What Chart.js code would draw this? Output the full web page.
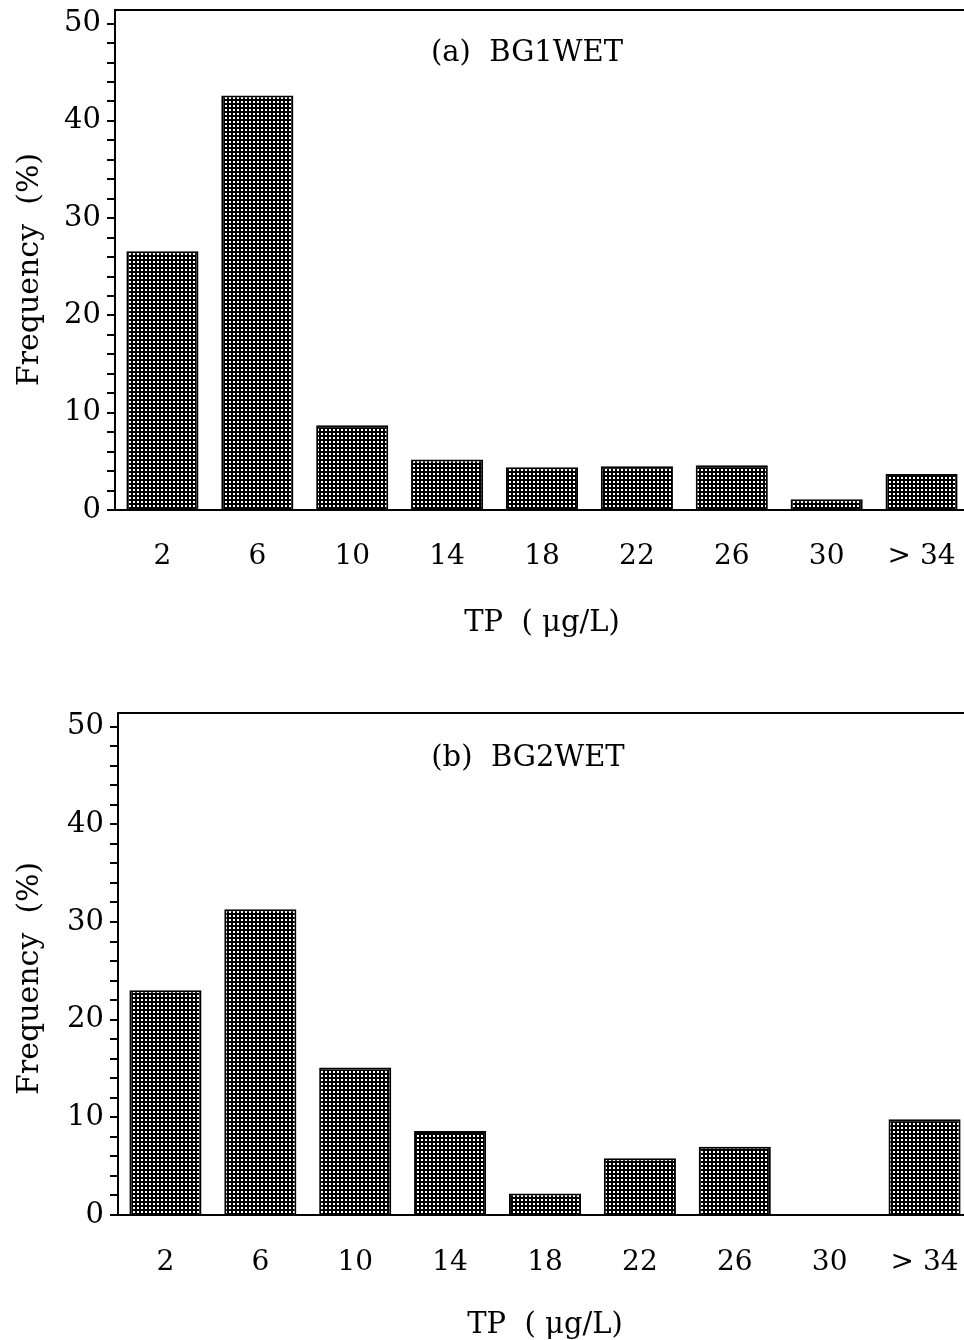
<!DOCTYPE html>
<html><head><meta charset="utf-8">
<script src="https://cdn.jsdelivr.net/npm/chart.js@4/dist/chart.umd.min.js"></script>
<style>
html,body{margin:0;padding:0;background:#fff;overflow:hidden;}
.wrap{position:absolute;left:0;}
#w1{top:0;height:660px;width:969px}
#w2{top:690px;height:680px;width:972px}
</style></head><body>
<div class="wrap" id="w1"><canvas id="c1"></canvas></div>
<div class="wrap" id="w2"><canvas id="c2"></canvas></div>
<script>
const categories = ['2', '6', '10', '14', '18', '22', '26', '30', '> 34'];
const bg1wet = [26.6, 42.6, 8.7, 5.2, 4.4, 4.5, 4.6, 1.1, 3.7];
const bg2wet = [23.0, 31.3, 15.1, 8.6, 2.2, 5.8, 7.0, 0, 9.8];
const yMajorTicks = [0, 10, 20, 30, 40, 50];
const yMinorStep = 2;
const panelTitles = ['(a)  BG1WET', '(b)  BG2WET'];
const xTitle = 'TP  ( μg/L)';
const yTitle = 'Frequency  (%)';

function makePattern() {
  const c = document.createElement('canvas');
  c.width = 4; c.height = 4;
  const g = c.getContext('2d');
  g.fillStyle = '#000'; g.fillRect(0, 0, 4, 4);
  g.fillStyle = '#fff';
  g.fillRect(1, 1, 2, 2);
  return g.createPattern(c, 'repeat');
}
const pattern = makePattern();
const FONT = 'DejaVu Serif';

const panelLabel = {
  id: 'panelLabel',
  afterDraw(chart, args, o) {
    const ctx = chart.ctx;
    ctx.save();
    ctx.font = '29px "' + FONT + '"';
    ctx.fillStyle = '#000';
    ctx.textAlign = 'center';
    ctx.textBaseline = 'middle';
    ctx.fillText(o.text, chart.chartArea.left + o.dx, chart.chartArea.top + o.dy);
    ctx.restore();
  }
};

function zeroPad(s) { s.paddingTop = 0; s.paddingBottom = 0; s.paddingLeft = 0; s.paddingRight = 0; }

function build(id, values, title, opt) {
  return new Chart(document.getElementById(id), {
    type: 'bar',
    data: {
      labels: categories,
      datasets: [{
        data: values,
        backgroundColor: pattern,
        borderColor: '#000',
        borderWidth: 2,
        categoryPercentage: 1,
        barPercentage: 0.76
      }]
    },
    plugins: [panelLabel],
    options: {
      responsive: true,
      maintainAspectRatio: false,
      animation: false,
      devicePixelRatio: 1,
      layout: { padding: { top: opt.top, left: 0, right: 0, bottom: 0 } },
      plugins: {
        legend: { display: false },
        tooltip: { enabled: false },
        panelLabel: { text: title, dx: opt.dx, dy: opt.dy }
      },
      scales: {
        x: {
          type: 'category',
          offset: true,
          grid: { display: false, drawTicks: false },
          border: { display: true, color: '#000', width: 2 },
          ticks: { font: { family: FONT, size: 28 }, color: '#000', padding: opt.xtp, maxRotation: 0, autoSkip: false },
          title: { display: true, text: xTitle, font: { family: FONT, size: 29 }, color: '#000', padding: { top: 0, bottom: opt.xtb } },
          afterFit(s) { s.height = opt.xh; zeroPad(s); }
        },
        x2: {
          type: 'category',
          labels: categories,
          position: 'top',
          offset: true,
          grid: { display: false, drawTicks: false },
          ticks: { display: false },
          border: { display: true, color: '#000', width: 2 },
          afterFit(s) { s.height = 0; zeroPad(s); }
        },
        y: {
          min: 0,
          max: 51.4,
          afterBuildTicks(s) {
            const top = yMajorTicks[yMajorTicks.length - 1];
            const t = [];
            for (let v = yMajorTicks[0]; v <= top; v += yMinorStep) t.push({ value: v });
            s.ticks = t;
          },
          grid: { display: true, drawOnChartArea: false, drawTicks: true, tickLength: 8, color: '#000', lineWidth: 2 },
          border: { display: true, color: '#000', width: 2 },
          ticks: {
            autoSkip: false,
            font: { family: FONT, size: 29 },
            color: '#000',
            padding: 6,
            callback: (v) => yMajorTicks.includes(v) ? String(v) : ''
          },
          title: { display: true, text: yTitle + opt.ypad, font: { family: FONT, size: 30 }, color: '#000', padding: { top: 12, bottom: 0 } },
          afterFit(s) { s.width = opt.yw; zeroPad(s); }
        }
      }
    }
  });
}

build('c1', bg1wet, panelTitles[0], { top: 10, yw: 115, xh: 150, xtp: 30, xtb: 19, dx: 412, dy: 43, ypad: '  ' });
build('c2', bg2wet, panelTitles[1], { top: 23, yw: 118, xh: 155, xtp: 31, xtb: 27, dx: 410, dy: 45, ypad: '   ' });
</script>
</body></html>
